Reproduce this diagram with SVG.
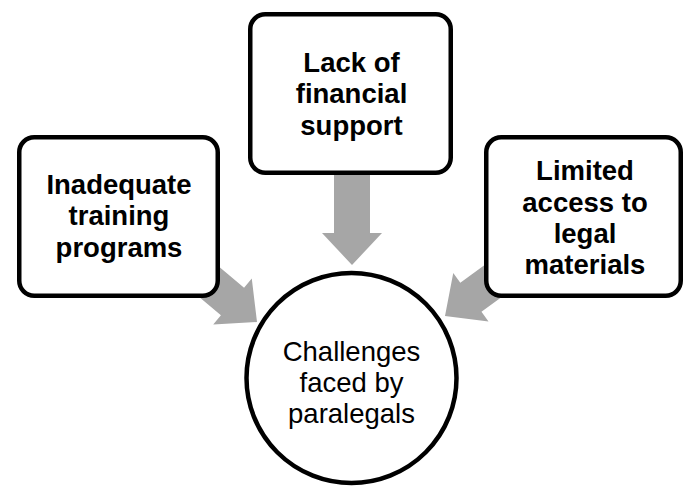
<svg xmlns="http://www.w3.org/2000/svg" width="683" height="486" viewBox="0 0 683 486">
<style>
.box{fill:#fff;stroke:#000;stroke-width:4.5}
.arrow{fill:#A6A6A6;stroke:none}
.lbl{font-family:"Liberation Sans",Arial,sans-serif;font-weight:bold;font-size:27.5px;text-anchor:middle;fill:#000}
.ctr{font-family:"Liberation Sans",Arial,sans-serif;font-size:27.5px;text-anchor:middle;fill:#000}
</style>
<defs>
<path id="arr" d="M-95,-18 H-32 V-30 L0,0 L-32,30 V18 H-95 Z"/>
</defs>
<g id="connectors">
<use href="#arr" class="arrow" transform="translate(352,265) rotate(90)"/>
<use href="#arr" class="arrow" transform="translate(257,322) rotate(40)"/>
<use href="#arr" class="arrow" transform="translate(445,316) rotate(144)"/>
</g>
<g id="center">
<circle cx="351.5" cy="378" r="105" class="box"/>
<text class="ctr" x="351.5" y="361">Challenges</text>
<text class="ctr" x="351.5" y="392">faced by</text>
<text class="ctr" x="351.5" y="423">paralegals</text>
</g>
<g id="training">
<rect x="19.25" y="137.25" width="198.5" height="158.5" rx="15" class="box"/>
<text class="lbl" x="119" y="193.5">Inadequate</text>
<text class="lbl" x="119" y="225">training</text>
<text class="lbl" x="119" y="256.5">programs</text>
</g>
<g id="financial">
<rect x="250.25" y="14.25" width="200.5" height="158.5" rx="15" class="box"/>
<text class="lbl" x="351.5" y="71.5">Lack of</text>
<text class="lbl" x="351.5" y="103">financial</text>
<text class="lbl" x="351.5" y="134.5">support</text>
</g>
<g id="materials">
<rect x="486.25" y="137.25" width="194.5" height="158.5" rx="15" class="box"/>
<text class="lbl" x="585" y="180">Limited</text>
<text class="lbl" x="585" y="211.5">access to</text>
<text class="lbl" x="585" y="242.5">legal</text>
<text class="lbl" x="585" y="273.5">materials</text>
</g>
</svg>
